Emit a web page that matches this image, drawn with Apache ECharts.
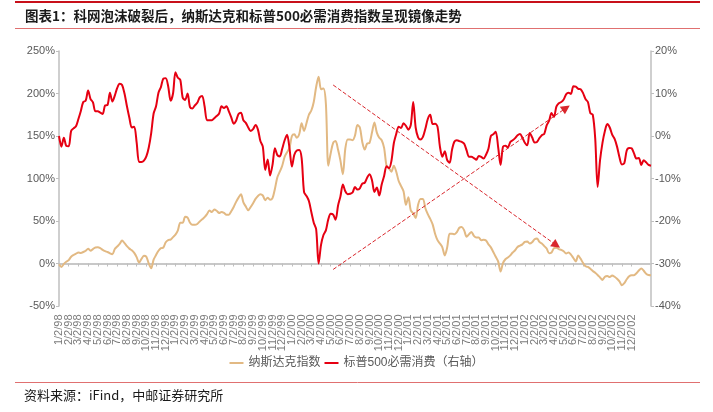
<!DOCTYPE html>
<html>
<head>
<meta charset="utf-8">
<script src="https://cdn.jsdelivr.net/npm/echarts@6/dist/echarts.min.js"></script>
<style>
html, body { margin: 0; padding: 0; background: #fff; }
#chart { width: 713px; height: 412px; }
</style>
</head>
<body>
<div id="chart"></div>
<script>
// month tick labels on the x axis
const monthLabels = [
  '1/2/98', '2/2/98', '3/2/98', '4/2/98', '5/2/98', '6/2/98', '7/2/98', '8/2/98', '9/2/98', '10/2/98', '11/2/98', '12/2/98',
  '1/2/99', '2/2/99', '3/2/99', '4/2/99', '5/2/99', '6/2/99', '7/2/99', '8/2/99', '9/2/99', '10/2/99', '11/2/99', '12/2/99',
  '1/2/00', '2/2/00', '3/2/00', '4/2/00', '5/2/00', '6/2/00', '7/2/00', '8/2/00', '9/2/00', '10/2/00', '11/2/00', '12/2/00',
  '1/2/01', '2/2/01', '3/2/01', '4/2/01', '5/2/01', '6/2/01', '7/2/01', '8/2/01', '9/2/01', '10/2/01', '11/2/01', '12/2/01',
  '1/2/02', '2/2/02', '3/2/02', '4/2/02', '5/2/02', '6/2/02', '7/2/02', '8/2/02', '9/2/02', '10/2/02', '11/2/02', '12/2/02'
];
const pointsPerMonth = 4;

// 纳斯达克指数, cumulative %, left axis (about weekly)
const nasdaq = [
  -1, -4, -0.5, 2, 4, 8, 10, 11.5, 13, 12.5,
  13.5, 15, 17.5, 15, 17, 18.8, 19, 18, 16, 14.5,
  13.5, 12, 11, 17, 20, 23, 27, 24, 20.5, 17.5,
  15.5, 12.5, 7.5, 1, 5.5, 9, 8, 0, -5.5, 4.5,
  10, 15, 18, 18.8, 25, 27.5, 28.2, 31, 34, 39,
  48, 48, 55, 54, 48, 45.5, 45.5, 46.5, 49.5, 52,
  54.5, 58, 62.5, 60.5, 63.5, 62, 59.5, 60.5, 59.5, 57.5,
  57.5, 61.5, 66.5, 72.5, 77.5, 81.5, 72, 67, 62.6, 66.5,
  71, 76, 79.5, 81.5, 80, 74.5, 77.5, 75, 77, 88,
  101.5, 108, 115, 125.5, 131, 136, 150, 152, 148, 152,
  165, 156, 165, 175, 180, 190, 208, 219.8, 205, 206,
  188, 115, 130, 142, 144, 134, 121, 105, 135, 146,
  146, 145, 150.6, 163, 160, 143, 134, 141, 142, 154,
  166, 154, 148, 145, 136, 115, 112, 108, 115, 108,
  97, 91, 85, 69, 78, 62.5, 59, 53.5, 69, 76,
  76, 65, 58, 52.5, 46, 35, 27.5, 23.5, 19, 9.5,
  19, 35, 35, 34.5, 37, 42, 43, 39, 31.5, 34.5,
  37, 32.5, 30.5, 30.5, 27.5, 28, 27, 22.5, 19, 13.5,
  8, 2.5, -9.5, 0.5, 5, 7, 9.5, 13, 15.6, 19.5,
  21, 22.5, 25.5, 26, 23.5, 25, 28.5, 29.5, 25.4, 23.5,
  20.5, 17.6, 12, 13, 18, 18.5, 17, 16, 14.5, 11.7,
  13, 10.5, 6.5, 2.5, 9.5, 5.5, 0.5, -3.3, -4, -6.3,
  -8.8, -11, -13.5, -16.4, -19.3, -15.5, -14.7, -16, -14, -15.6,
  -18, -21, -25.5, -23, -18.5, -15, -13.7, -13.7, -11.5, -8.3,
  -6, -8.5, -12, -13.5, -13.7
];

// 标普500必需消费, cumulative %, right axis
const consumer = [
  0, -2.5, -0.4, -2.3, -2.4, 1.2, 1.8, 2.3, 4, 5.9,
  8, 8.3, 10.7, 8.7, 7.9, 5.8, 5.8, 5.5, 5.2, 7.2,
  7.3, 10.2, 8.1, 9.5, 11.3, 12.3, 12, 10, 7, 4.3,
  2, 2.2, -1.5, -6.1, -6.1, -5.8, -4.8, -2.7, 0.7, 5.3,
  7, 10.2, 11.5, 13.5, 13.6, 11.7, 8.3, 10, 15, 13.7,
  13.2, 9, 8.5, 10, 6.8, 6.5, 7.2, 7.8, 9.1, 9.4,
  7, 3.7, 3.7, 3.7, 4.2, 4.7, 5.3, 7, 6.6, 7,
  5.8, 4.4, 2.9, 3.6, 5.2, 5.5, 3.7, 3.1, 2, 1.2,
  1.6, 2.6, 1.5, -1.2, -2.5, -8, -5.5, -9.3, -6.8, -2.9,
  -4.5, -4.8, -3, -1, 0.3, -2.9, -7.2, -4.4, -3.4, -3.3,
  -5.2, -13.2, -14.1, -15.3, -17.9, -20.4, -22, -30, -25.6, -23.3,
  -22.2, -19.6, -18.3, -18.5, -19.7, -16.4, -14.2, -11.4, -13, -13.7,
  -13.6, -13.3, -12, -12.6, -12.3, -11.2, -11, -9.8, -9, -10.4,
  -13.2, -12.1, -14, -11.4, -9.4, -7.1, -7.6, -5.9, -1.7, 0.5,
  2.2, 1.9, 3, 2.4, 1.5, 2.6, 8, 2, -0.3, -0.8,
  -0.2, 1.7, 4, 5, 2.8, 2.9, 2.2, -2.5, -4.9, -3.6,
  -5.7, -6.3, -3.2, -1.3, -1, -1.2, -1.4, -1.8, -3.4, -4.9,
  -4.9, -5.2, -5.6, -4.7, -4.9, -5.3, -4.4, -3, 0, 0.4,
  1, -2.6, -6.8, -2.5, -2.3, -2.7, -1.4, -1, -0.5, 0.2,
  0.5, -0.4, -1.6, -2.2, 0.7, -0.3, -1.5, -1.4, -0.5, 0.2,
  0.5, 2.5, 3.6, 5.4, 4.5, 6.9, 7.7, 8, 8.6, 9.8,
  10.2, 9.9, 11.7, 11.6, 11.1, 11, 10.1, 8.7, 8, 5.4,
  5, -0.5, -12, -5.7, -1.6, 1.2, 2.8, 2, 0.3, -0.7,
  -2.5, -5, -6.7, -6.4, -3.4, -2.8, -2.9, -4.1, -5.3, -5.2,
  -6.8, -5.7, -6.2, -6.8, -7
];

// dashed arrows: [category index, left-axis value]
const arrowDown = [[113, 210], [205, 21.5]];
const arrowUp = [[113, -7], [209, 183]];

const leftMin = -50;

// category names: month start gets its label, other points a hidden key
const categories = nasdaq.map((_, i) => {
  const m = Math.floor(i / pointsPerMonth);
  return (i % pointsPerMonth === 0 && m < monthLabels.length) ? monthLabels[m] : m + '#' + (i % pointsPerMonth);
});
const isMonth = (index, value) => String(value).indexOf('#') < 0;

// month labels are drawn as labels of invisible points on the bottom edge,
// so that none of them gets dropped for overlapping its neighbour
const monthLabelPoints = monthLabels.map((m, k) => [k * pointsPerMonth, leftMin]);

const chart = echarts.init(document.getElementById('chart'), null, { renderer: 'canvas' });

const axisFont = "'Liberation Sans', 'Noto Sans CJK SC', sans-serif";
const cjkFont = "'Noto Sans CJK SC', 'Liberation Sans', sans-serif";
const grey = '#595959';

const option = {
  animation: false,
  backgroundColor: '#fff',
  grid: { left: 59, right: 62, top: 51, bottom: 106, containLabel: false, outerBoundsMode: 'none' },
  legend: {
    top: 352,
    left: 'center',
    icon: 'rect',
    itemWidth: 14,
    itemHeight: 2,
    itemGap: 4,
    textStyle: { fontSize: 12, color: grey, fontFamily: axisFont },
    data: ['纳斯达克指数', '标普500必需消费（右轴）']
  },
  xAxis: [
    {
      type: 'category',
      data: categories,
      boundaryGap: false,
      position: 'bottom',
      axisLine: { show: false, onZero: false },
      axisTick: { show: false },
      axisLabel: { show: false },
      splitLine: { show: false }
    },
    {
      type: 'category',
      data: categories,
      boundaryGap: false,
      position: 'bottom',
      axisLine: { show: true, onZero: true, onZeroAxisIndex: 0, lineStyle: { color: '#c8c8c8', width: 2 } },
      axisTick: { show: true, interval: isMonth, inside: false, length: 3, lineStyle: { color: '#bfbfbf' } },
      axisLabel: { show: false },
      splitLine: { show: false }
    }
  ],
  yAxis: [
    {
      type: 'value',
      min: leftMin,
      max: 250,
      interval: 50,
      axisLine: { show: true, lineStyle: { color: '#bfbfbf', width: 1.5 } },
      axisTick: { show: true, length: 3, lineStyle: { color: '#bfbfbf' } },
      axisLabel: { formatter: '{value}%', fontSize: 11, color: grey, margin: 4, fontFamily: axisFont },
      splitLine: { show: false }
    },
    {
      type: 'value',
      min: -40,
      max: 20,
      interval: 10,
      position: 'right',
      axisLine: { show: true, lineStyle: { color: '#bfbfbf', width: 1.5 } },
      axisTick: { show: true, length: 3, lineStyle: { color: '#bfbfbf' } },
      axisLabel: { formatter: '{value}%', fontSize: 11, color: grey, margin: 4, fontFamily: axisFont },
      splitLine: { show: false }
    }
  ],
  series: [
    {
      name: '纳斯达克指数',
      type: 'line',
      xAxisIndex: 0,
      yAxisIndex: 0,
      data: nasdaq,
      showSymbol: false,
      smooth: 0.3,
      color: '#e2b983',
      lineStyle: { width: 2, color: '#e2b983' },
      emphasis: { disabled: true },
      markLine: {
        silent: true,
        symbol: ['none', 'triangle'],
        symbolSize: 9,
        label: { show: false },
        lineStyle: { type: 'dashed', color: '#d9262c', width: 1 },
        data: [
          [{ coord: arrowDown[0] }, { coord: arrowDown[1] }],
          [{ coord: arrowUp[0] }, { coord: arrowUp[1] }]
        ]
      }
    },
    {
      name: '标普500必需消费（右轴）',
      type: 'line',
      xAxisIndex: 0,
      yAxisIndex: 1,
      data: consumer,
      showSymbol: false,
      smooth: 0.3,
      color: '#e60012',
      lineStyle: { width: 2, color: '#e60012' },
      emphasis: { disabled: true }
    },
    {
      name: 'monthLabels',
      type: 'scatter',
      xAxisIndex: 0,
      yAxisIndex: 0,
      data: monthLabelPoints,
      symbol: 'circle',
      symbolSize: 1,
      silent: true,
      clip: false,
      itemStyle: { color: 'rgba(255,255,255,0)' },
      label: {
        show: true,
        position: 'bottom',
        distance: 8,
        rotate: 90,
        align: 'right',
        verticalAlign: 'middle',
        fontSize: 11,
        color: grey,
        fontFamily: axisFont,
        formatter: (p) => monthLabels[p.dataIndex]
      },
      labelLayout: { hideOverlap: false },
      emphasis: { disabled: true }
    }
  ],
  graphic: [
    { type: 'line', shape: { x1: 15, y1: 2, x2: 700, y2: 2 }, style: { stroke: '#c8101a', lineWidth: 2 } },
    { type: 'line', shape: { x1: 15, y1: 28.5, x2: 700, y2: 28.5 }, style: { stroke: '#e07070', lineWidth: 1 } },
    { type: 'line', shape: { x1: 15, y1: 382.5, x2: 700, y2: 382.5 }, style: { stroke: '#e07070', lineWidth: 1 } },
    {
      type: 'text',
      style: {
        x: 25, y: 15.5,
        text: '图表1：科网泡沫破裂后，纳斯达克和标普500必需消费指数呈现镜像走势',
        fontSize: 13.5, fontWeight: 'bold', fontFamily: cjkFont, fill: '#1a1a1a',
        verticalAlign: 'middle'
      }
    },
    {
      type: 'text',
      style: {
        x: 24, y: 395,
        text: '资料来源：iFind，中邮证券研究所',
        fontSize: 13, fontFamily: cjkFont, fill: '#1a1a1a',
        verticalAlign: 'middle'
      }
    }
  ]
};

chart.setOption(option);
</script>
</body>
</html>
